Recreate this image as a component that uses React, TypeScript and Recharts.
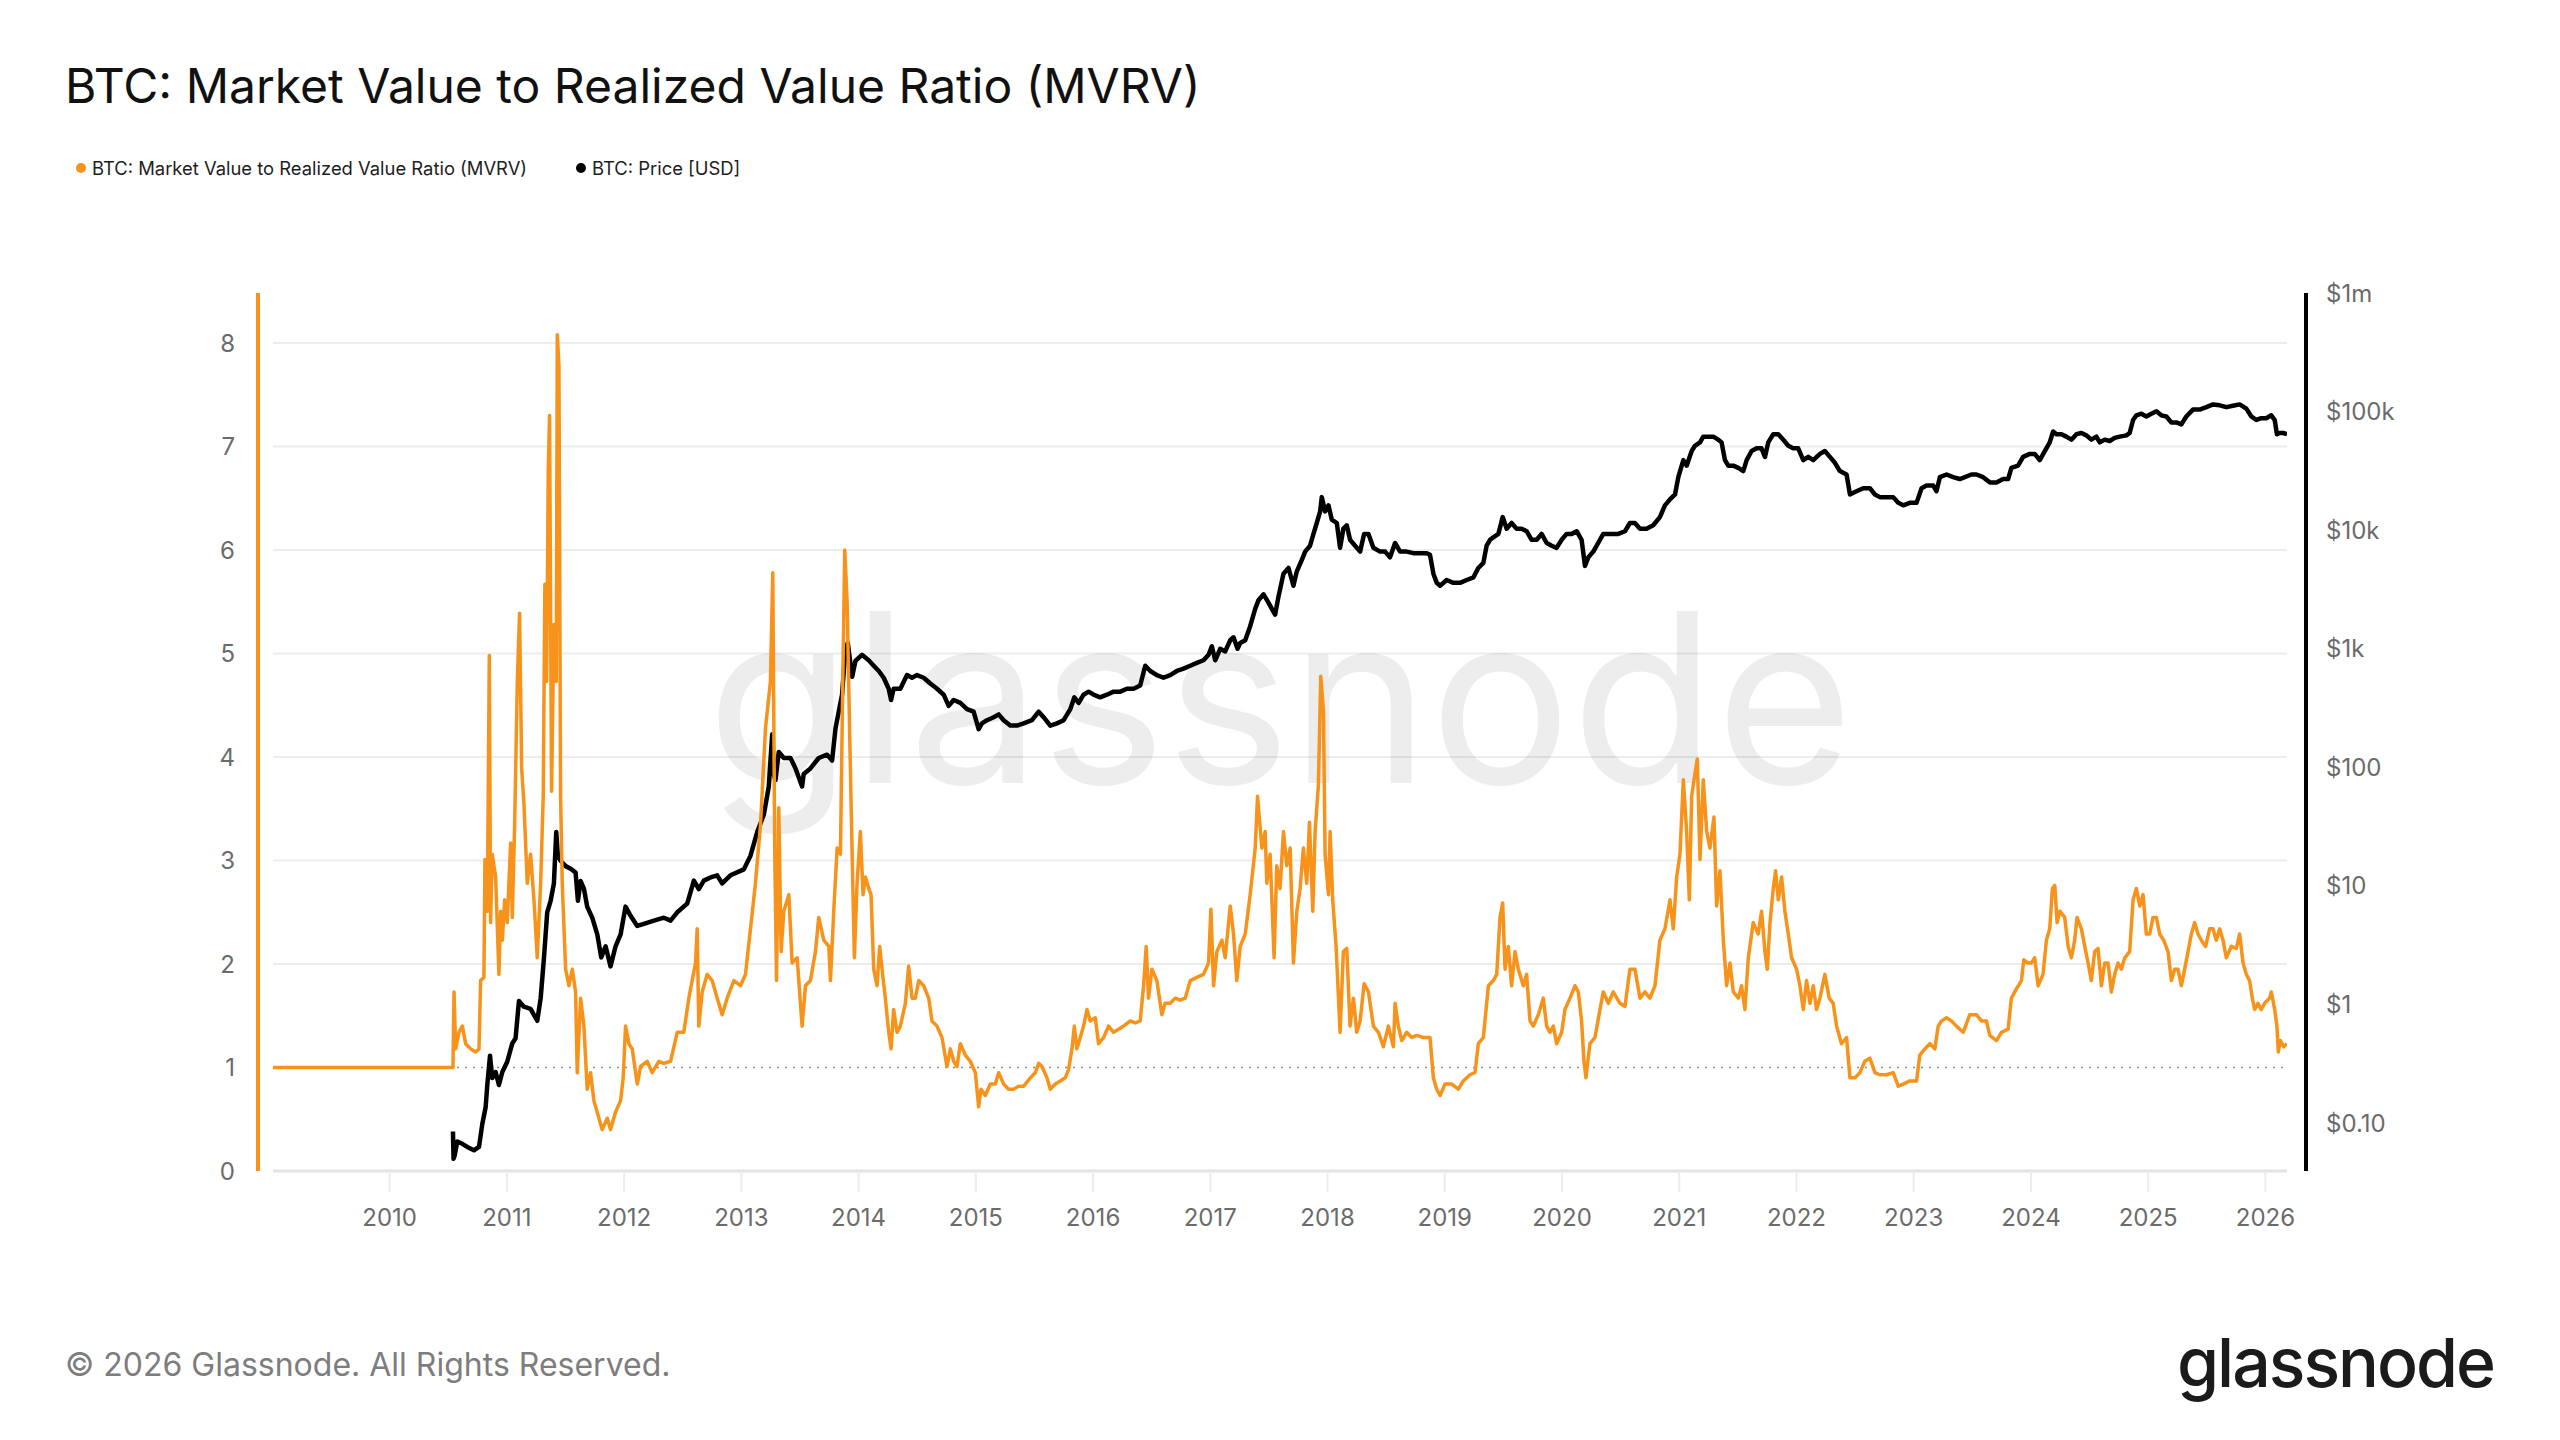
import React from 'react';
import { LineChart, Line, XAxis, YAxis, ReferenceLine, Customized } from 'recharts';

const ORANGE = '#f7931a';
const INK = '#000000';
const FONT = 'Inter, "Noto Sans", sans-serif';

const W = 2560;
const H = 1440;
// plot rectangle inside the svg
const PLOT = { left: 273, right: 2287, top: 293, bottom: 1171 };
const LEFT_AXIS_W = 80;
const RIGHT_AXIS_W = 200;
const X_AXIS_H = 80;

const yearTicks = [2010, 2011, 2012, 2013, 2014, 2015, 2016, 2017, 2018, 2019, 2020, 2021, 2022, 2023, 2024, 2025, 2026];
const ratioTicks = [0, 1, 2, 3, 4, 5, 6, 7, 8];
const priceTicks = [0.1, 1, 10, 100, 1000, 10000, 100000, 1000000];
const priceTickLabels = ['$0.10', '$1', '$10', '$100', '$1k', '$10k', '$100k', '$1m'];

// MVRV, sampled as decimal years
const mvrvYears = [
  2009.005, 2010.54, 2010.549, 2010.563, 2010.591, 2010.62, 2010.648, 2010.691, 2010.733, 2010.762, 2010.776, 2010.804, 2010.813, 2010.833, 2010.85, 2010.861, 2010.875, 2010.904, 2010.932, 2010.947, 2010.961, 2010.981,
  2011.003, 2011.032, 2011.046, 2011.066, 2011.089, 2011.108, 2011.126, 2011.145, 2011.174, 2011.202, 2011.231, 2011.259, 2011.288, 2011.31, 2011.324, 2011.339, 2011.353, 2011.364, 2011.381, 2011.401, 2011.421, 2011.43, 2011.444, 2011.458, 2011.472, 2011.501, 2011.529, 2011.558, 2011.586, 2011.6, 2011.629, 2011.657, 2011.685, 2011.714, 2011.742, 2011.785, 2011.813, 2011.856, 2011.884, 2011.927, 2011.97, 2011.992,
  2012.012, 2012.041, 2012.069, 2012.112, 2012.14, 2012.197, 2012.239, 2012.296, 2012.339, 2012.396, 2012.453, 2012.509, 2012.552, 2012.58, 2012.609, 2012.623, 2012.637, 2012.666, 2012.708, 2012.751, 2012.794, 2012.836, 2012.879, 2012.936, 2012.993,
  2013.035, 2013.078, 2013.12, 2013.163, 2013.206, 2013.248, 2013.268, 2013.285, 2013.3, 2013.319, 2013.339, 2013.362, 2013.405, 2013.433, 2013.476, 2013.518, 2013.547, 2013.589, 2013.632, 2013.66, 2013.703, 2013.746, 2013.76, 2013.788, 2013.817, 2013.845, 2013.865, 2013.882, 2013.902, 2013.925, 2013.945, 2013.964, 2013.987,
  2014.015, 2014.038, 2014.058, 2014.086, 2014.106, 2014.129, 2014.157, 2014.18, 2014.2, 2014.228, 2014.257, 2014.277, 2014.299, 2014.328, 2014.356, 2014.399, 2014.427, 2014.456, 2014.484, 2014.513, 2014.555, 2014.598, 2014.626, 2014.669, 2014.711, 2014.754, 2014.783, 2014.811, 2014.839, 2014.868, 2014.91, 2014.953, 2014.996,
  2015.024, 2015.044, 2015.081, 2015.124, 2015.166, 2015.195, 2015.237, 2015.28, 2015.322, 2015.365, 2015.408, 2015.465, 2015.507, 2015.536, 2015.564, 2015.607, 2015.635, 2015.678, 2015.72, 2015.763, 2015.791, 2015.82, 2015.84, 2015.862, 2015.891, 2015.919, 2015.948, 2015.976,
  2016.019, 2016.047, 2016.09, 2016.132, 2016.175, 2016.218, 2016.26, 2016.317, 2016.36, 2016.402, 2016.431, 2016.453, 2016.473, 2016.502, 2016.544, 2016.587, 2016.615, 2016.658, 2016.701, 2016.743, 2016.786, 2016.829, 2016.885, 2016.942, 2016.985,
  2017.005, 2017.028, 2017.056, 2017.099, 2017.127, 2017.17, 2017.198, 2017.226, 2017.255, 2017.298, 2017.34, 2017.383, 2017.403, 2017.44, 2017.468, 2017.482, 2017.51, 2017.544, 2017.567, 2017.595, 2017.624, 2017.652, 2017.681, 2017.709, 2017.738, 2017.766, 2017.794, 2017.823, 2017.846, 2017.874, 2017.894, 2017.922, 2017.942, 2017.965, 2017.979,
  2018.008, 2018.022, 2018.044, 2018.073, 2018.107, 2018.135, 2018.164, 2018.192, 2018.221, 2018.249, 2018.278, 2018.312, 2018.349, 2018.391, 2018.434, 2018.476, 2018.519, 2018.562, 2018.576, 2018.604, 2018.633, 2018.675, 2018.718, 2018.761, 2018.817, 2018.874, 2018.903, 2018.931, 2018.96,
  2019.002, 2019.059, 2019.116, 2019.158, 2019.215, 2019.258, 2019.286, 2019.329, 2019.372, 2019.414, 2019.443, 2019.471, 2019.494, 2019.514, 2019.542, 2019.57, 2019.599, 2019.627, 2019.67, 2019.698, 2019.727, 2019.755, 2019.798, 2019.84, 2019.869, 2019.897, 2019.926, 2019.954, 2019.997,
  2020.025, 2020.068, 2020.111, 2020.139, 2020.167, 2020.187, 2020.204, 2020.238, 2020.281, 2020.324, 2020.352, 2020.395, 2020.437, 2020.494, 2020.537, 2020.579, 2020.622, 2020.665, 2020.707, 2020.75, 2020.793, 2020.835, 2020.878, 2020.921, 2020.949, 2020.978,
  2021.006, 2021.035, 2021.063, 2021.086, 2021.106, 2021.126, 2021.154, 2021.177, 2021.205, 2021.234, 2021.262, 2021.296, 2021.319, 2021.347, 2021.376, 2021.404, 2021.433, 2021.461, 2021.504, 2021.532, 2021.56, 2021.589, 2021.631, 2021.674, 2021.702, 2021.731, 2021.751, 2021.774, 2021.802, 2021.822, 2021.845, 2021.873, 2021.901, 2021.93, 2021.958,
  2022.001, 2022.029, 2022.058, 2022.086, 2022.115, 2022.143, 2022.171, 2022.2, 2022.242, 2022.279, 2022.313, 2022.342, 2022.384, 2022.427, 2022.456, 2022.498, 2022.541, 2022.583, 2022.626, 2022.669, 2022.711, 2022.768, 2022.825, 2022.868, 2022.91, 2022.967,
  2023.024, 2023.052, 2023.095, 2023.138, 2023.18, 2023.209, 2023.237, 2023.28, 2023.322, 2023.365, 2023.422, 2023.478, 2023.535, 2023.578, 2023.62, 2023.649, 2023.706, 2023.748, 2023.805, 2023.833, 2023.876, 2023.919, 2023.939, 2023.976,
  2024.004, 2024.032, 2024.061, 2024.103, 2024.132, 2024.16, 2024.183, 2024.203, 2024.223, 2024.246, 2024.288, 2024.317, 2024.345, 2024.373, 2024.393, 2024.43, 2024.459, 2024.487, 2024.515, 2024.544, 2024.572, 2024.601, 2024.629, 2024.658, 2024.686, 2024.714, 2024.743, 2024.771, 2024.8, 2024.842, 2024.871, 2024.899, 2024.928, 2024.956, 2024.984,
  2025.013, 2025.041, 2025.07, 2025.098, 2025.132, 2025.169, 2025.198, 2025.226, 2025.254, 2025.283, 2025.311, 2025.34, 2025.368, 2025.396, 2025.425, 2025.453, 2025.49, 2025.524, 2025.553, 2025.581, 2025.61, 2025.638, 2025.666, 2025.709, 2025.752, 2025.78, 2025.809, 2025.837, 2025.865, 2025.888, 2025.908, 2025.936, 2025.965, 2025.993,
  2026.036, 2026.05, 2026.079, 2026.098, 2026.11, 2026.127, 2026.155, 2026.184,
];
const mvrvRatio = [
  1.0, 1.0, 1.73, 1.18, 1.34, 1.4, 1.23, 1.18, 1.15, 1.18, 1.84, 1.87, 3.01, 2.51, 4.98, 2.4, 3.06, 2.84, 1.9, 2.51, 2.23, 2.62,
  2.4, 3.17, 2.45, 3.34, 4.73, 5.39, 3.89, 3.56, 2.78, 3.06, 2.62, 2.06, 2.78, 3.62, 5.67, 4.73, 6.78, 7.3, 3.67, 5.28, 4.73, 8.08, 7.78, 3.62, 2.78, 1.95, 1.79, 1.95, 1.73, 0.95, 1.67, 1.4, 0.79, 0.95, 0.68, 0.51, 0.4, 0.51, 0.4, 0.57, 0.68, 0.9,
  1.4, 1.23, 1.18, 0.84, 1.01, 1.06, 0.95, 1.06, 1.04, 1.06, 1.34, 1.34, 1.67, 1.84, 2.01, 2.34, 1.4, 1.73, 1.9, 1.84, 1.67, 1.51, 1.67, 1.84, 1.79,
  1.9, 2.34, 2.78, 3.34, 4.28, 4.73, 5.78, 3.06, 1.84, 3.51, 2.12, 2.51, 2.67, 2.01, 2.06, 1.4, 1.79, 1.84, 2.12, 2.45, 2.23, 2.17, 1.84, 2.51, 3.12, 3.06, 4.73, 6.0, 5.5, 4.17, 3.06, 2.06, 2.78,
  3.28, 2.67, 2.84, 2.73, 2.67, 1.95, 1.79, 2.17, 1.95, 1.67, 1.34, 1.18, 1.56, 1.34, 1.4, 1.62, 1.98, 1.67, 1.67, 1.84, 1.79, 1.67, 1.45, 1.4, 1.29, 1.01, 1.18, 1.06, 1.01, 1.23, 1.12, 1.06, 0.95,
  0.62, 0.79, 0.73, 0.84, 0.84, 0.95, 0.84, 0.79, 0.79, 0.82, 0.82, 0.9, 0.95, 1.04, 1.01, 0.9, 0.79, 0.84, 0.87, 0.9, 0.98, 1.18, 1.4, 1.18, 1.29, 1.4, 1.56, 1.45,
  1.48, 1.23, 1.29, 1.4, 1.34, 1.37, 1.4, 1.45, 1.43, 1.45, 1.79, 2.17, 1.67, 1.95, 1.84, 1.51, 1.62, 1.62, 1.67, 1.65, 1.67, 1.84, 1.87, 1.9, 2.01,
  2.53, 1.79, 2.12, 2.23, 2.06, 2.56, 2.29, 1.84, 2.17, 2.29, 2.67, 3.12, 3.62, 3.12, 3.28, 2.78, 3.06, 2.06, 2.95, 2.73, 3.28, 2.95, 3.12, 2.01, 2.51, 2.73, 3.12, 2.78, 3.37, 2.51, 3.28, 3.73, 4.78, 4.45, 3.06,
  2.67, 3.28, 2.62, 2.17, 1.34, 2.12, 2.15, 1.4, 1.67, 1.34, 1.45, 1.81, 1.73, 1.4, 1.34, 1.2, 1.4, 1.2, 1.62, 1.4, 1.26, 1.34, 1.29, 1.31, 1.29, 1.29, 0.9, 0.79, 0.73,
  0.84, 0.84, 0.79, 0.87, 0.93, 0.95, 1.23, 1.29, 1.79, 1.84, 1.9, 2.45, 2.59, 1.95, 2.17, 1.79, 2.12, 1.95, 1.79, 1.9, 1.45, 1.4, 1.51, 1.67, 1.4, 1.34, 1.4, 1.23, 1.34,
  1.56, 1.67, 1.79, 1.73, 1.45, 1.06, 0.9, 1.23, 1.29, 1.56, 1.73, 1.62, 1.73, 1.62, 1.59, 1.95, 1.95, 1.67, 1.73, 1.67, 1.79, 2.23, 2.34, 2.62, 2.34, 2.84,
  3.06, 3.78, 3.28, 2.62, 3.62, 3.78, 3.98, 3.01, 3.78, 3.28, 3.12, 3.42, 2.56, 2.9, 2.23, 1.79, 2.01, 1.73, 1.67, 1.79, 1.56, 2.06, 2.4, 2.29, 2.51, 2.12, 1.95, 2.4, 2.73, 2.9, 2.62, 2.84, 2.51, 2.29, 2.06,
  1.95, 1.79, 1.56, 1.84, 1.62, 1.79, 1.56, 1.67, 1.9, 1.67, 1.62, 1.4, 1.23, 1.29, 0.9, 0.9, 0.95, 1.06, 1.09, 0.95, 0.93, 0.93, 0.95, 0.82, 0.84, 0.87,
  0.87, 1.12, 1.18, 1.23, 1.18, 1.4, 1.45, 1.48, 1.45, 1.4, 1.34, 1.51, 1.51, 1.45, 1.45, 1.31, 1.26, 1.34, 1.37, 1.67, 1.76, 1.84, 2.04, 2.01,
  2.01, 2.06, 1.79, 1.9, 2.23, 2.34, 2.73, 2.76, 2.4, 2.51, 2.45, 2.17, 2.06, 2.23, 2.45, 2.34, 2.17, 2.01, 1.84, 2.12, 2.15, 1.79, 2.01, 2.01, 1.73, 1.9, 2.01, 1.95, 2.06, 2.12, 2.62, 2.73, 2.56, 2.67, 2.29,
  2.29, 2.45, 2.45, 2.29, 2.23, 2.12, 1.84, 1.95, 1.95, 1.79, 1.95, 2.12, 2.29, 2.4, 2.29, 2.23, 2.17, 2.34, 2.34, 2.23, 2.34, 2.23, 2.06, 2.17, 2.15, 2.29, 2.01, 1.9, 1.84, 1.67, 1.56, 1.62, 1.56, 1.62,
  1.67, 1.73, 1.56, 1.4, 1.15, 1.26, 1.2, 1.23,
];

// BTC price in USD, sampled as decimal years
const priceYears = [
  2010.54, 2010.545, 2010.554, 2010.577, 2010.62, 2010.662, 2010.719, 2010.762, 2010.79, 2010.819, 2010.833, 2010.856, 2010.875, 2010.904, 2010.932, 2010.961,
  2011.003, 2011.046, 2011.074, 2011.103, 2011.145, 2011.202, 2011.259, 2011.288, 2011.316, 2011.344, 2011.373, 2011.401, 2011.421, 2011.435, 2011.458, 2011.501, 2011.543, 2011.586, 2011.606, 2011.629, 2011.657, 2011.685, 2011.728, 2011.771, 2011.805, 2011.842, 2011.884, 2011.927, 2011.97,
  2012.012, 2012.055, 2012.112, 2012.168, 2012.254, 2012.339, 2012.396, 2012.453, 2012.538, 2012.595, 2012.637, 2012.68, 2012.737, 2012.794, 2012.836, 2012.907, 2012.978,
  2013.021, 2013.078, 2013.135, 2013.192, 2013.234, 2013.263, 2013.277, 2013.291, 2013.319, 2013.362, 2013.419, 2013.462, 2013.518, 2013.532, 2013.589, 2013.66, 2013.731, 2013.774, 2013.803, 2013.831, 2013.859, 2013.888, 2013.908, 2013.945, 2013.973,
  2014.029, 2014.086, 2014.129, 2014.172, 2014.214, 2014.257, 2014.277, 2014.299, 2014.356, 2014.413, 2014.456, 2014.498, 2014.555, 2014.612, 2014.669, 2014.726, 2014.768, 2014.811, 2014.868, 2014.925, 2014.981,
  2015.024, 2015.052, 2015.095, 2015.152, 2015.195, 2015.237, 2015.294, 2015.351, 2015.408, 2015.479, 2015.536, 2015.578, 2015.635, 2015.692, 2015.749, 2015.806, 2015.84, 2015.877, 2015.919, 2015.962,
  2016.004, 2016.061, 2016.118, 2016.175, 2016.232, 2016.289, 2016.345, 2016.402, 2016.445, 2016.488, 2016.544, 2016.601, 2016.658, 2016.715, 2016.772, 2016.829, 2016.885, 2016.942, 2016.985,
  2017.013, 2017.042, 2017.084, 2017.127, 2017.17, 2017.198, 2017.232, 2017.255, 2017.298, 2017.34, 2017.383, 2017.411, 2017.454, 2017.496, 2017.539, 2017.553, 2017.581, 2017.624, 2017.667, 2017.709, 2017.738, 2017.78, 2017.809, 2017.851, 2017.88, 2017.908, 2017.937, 2017.951, 2017.979,
  2018.008, 2018.036, 2018.079, 2018.107, 2018.135, 2018.164, 2018.192, 2018.235, 2018.278, 2018.312, 2018.349, 2018.391, 2018.448, 2018.491, 2018.533, 2018.576, 2018.619, 2018.675, 2018.732, 2018.789, 2018.846, 2018.874, 2018.903, 2018.931, 2018.96,
  2019.016, 2019.073, 2019.13, 2019.187, 2019.244, 2019.286, 2019.329, 2019.357, 2019.386, 2019.414, 2019.457, 2019.494, 2019.528, 2019.57, 2019.613, 2019.656, 2019.698, 2019.741, 2019.784, 2019.826, 2019.869, 2019.912, 2019.954, 2019.997,
  2020.039, 2020.082, 2020.125, 2020.167, 2020.196, 2020.224, 2020.267, 2020.309, 2020.352, 2020.395, 2020.437, 2020.48, 2020.537, 2020.579, 2020.622, 2020.665, 2020.721, 2020.778, 2020.835, 2020.878, 2020.921, 2020.964, 2020.992,
  2021.035, 2021.063, 2021.106, 2021.134, 2021.177, 2021.205, 2021.248, 2021.29, 2021.333, 2021.361, 2021.39, 2021.418, 2021.461, 2021.504, 2021.546, 2021.575, 2021.617, 2021.66, 2021.702, 2021.731, 2021.759, 2021.802, 2021.845, 2021.887, 2021.93, 2021.972,
  2022.015, 2022.058, 2022.1, 2022.143, 2022.2, 2022.242, 2022.285, 2022.328, 2022.37, 2022.427, 2022.456, 2022.512, 2022.569, 2022.626, 2022.669, 2022.711, 2022.768, 2022.825, 2022.868, 2022.91, 2022.967,
  2023.024, 2023.067, 2023.109, 2023.166, 2023.194, 2023.223, 2023.28, 2023.336, 2023.393, 2023.492, 2023.535, 2023.592, 2023.649, 2023.706, 2023.762, 2023.805, 2023.833, 2023.89, 2023.933, 2023.99,
  2024.032, 2024.075, 2024.118, 2024.16, 2024.189, 2024.217, 2024.26, 2024.302, 2024.345, 2024.388, 2024.43, 2024.473, 2024.515, 2024.558, 2024.587, 2024.629, 2024.672, 2024.714, 2024.757, 2024.814, 2024.842, 2024.871, 2024.899, 2024.942, 2024.984,
  2025.027, 2025.07, 2025.112, 2025.155, 2025.198, 2025.24, 2025.283, 2025.325, 2025.382, 2025.439, 2025.496, 2025.553, 2025.61, 2025.666, 2025.723, 2025.78, 2025.837, 2025.88, 2025.922, 2025.965,
  2026.007, 2026.05, 2026.079, 2026.098, 2026.121, 2026.15, 2026.184,
];
const priceUsd = [
  0.085, 0.05, 0.053, 0.07, 0.067, 0.063, 0.059, 0.063, 0.098, 0.137, 0.21, 0.37, 0.24, 0.27, 0.21, 0.27,
  0.33, 0.47, 0.52, 1.07, 0.96, 0.92, 0.73, 1.13, 2.46, 6.0, 7.5, 10.5, 28.5, 18, 16.3, 14.7, 14, 13, 7.5, 11, 9.5, 6.7, 5.4, 3.9, 2.5, 3.1, 2.1, 3.1, 3.9,
  6.7, 5.6, 4.6, 4.8, 5.1, 5.4, 5.1, 6.0, 7.1, 11.1, 9.4, 11.1, 11.8, 12.3, 10.5, 12.3, 13.2,
  13.8, 18, 28.5, 40, 69, 190, 87, 78, 135, 120, 120, 98, 69, 88, 98, 120, 128, 114, 213, 297, 410, 1000, 1120, 580, 790,
  890, 800, 720, 650, 570, 460, 370, 460, 460, 600, 570, 600, 570, 510, 460, 410, 330, 370, 350, 310, 295,
  210, 235, 250, 265, 280, 250, 225, 225, 235, 250, 295, 265, 225, 235, 250, 310, 390, 350, 410, 435,
  410, 390, 410, 435, 435, 460, 460, 490, 720, 650, 600, 570, 600, 650, 680, 720, 760, 800, 890,
  1050, 800, 1000, 950, 1180, 1250, 1000, 1120, 1180, 1550, 2170, 2570, 2880, 2450, 2050, 1940, 2740, 4300, 4800, 3400, 4500, 5600, 6600, 7400, 9300, 11500, 14400, 19000, 14400,
  16200, 12300, 11500, 7100, 10300, 11000, 8300, 7400, 6600, 9300, 9300, 7100, 6600, 6600, 5900, 7800, 6600, 6600, 6400, 6400, 6400, 6200, 4300, 3600, 3400,
  3800, 3600, 3600, 3800, 4000, 4800, 5300, 7400, 8300, 8700, 9300, 12900, 10300, 11500, 10300, 10300, 9800, 8300, 8300, 9300, 7800, 7400, 7100, 8300,
  9300, 9300, 9800, 8300, 5000, 5900, 6600, 7800, 9300, 9300, 9300, 9300, 9800, 11500, 11500, 10300, 10300, 11000, 12900, 16200, 18200, 20000, 28000,
  39000, 35000, 46500, 51500, 55000, 61500, 61500, 61500, 58000, 55000, 39000, 35000, 35000, 33500, 31500, 39000, 46500, 49000, 49000, 41500, 55000, 64500, 64500, 58000, 51500, 49000,
  49000, 39000, 41500, 39000, 44000, 46500, 41500, 37000, 31500, 29500, 20000, 21300, 22600, 22600, 20000, 19000, 19000, 19000, 17000, 16200, 17000,
  17000, 22600, 23800, 23800, 21300, 28000, 29500, 28000, 27000, 29500, 29500, 28000, 25300, 25300, 27000, 27000, 33500, 35000, 41500, 44000,
  44000, 39000, 46500, 55000, 68000, 64500, 64500, 61500, 58000, 64500, 66000, 63000, 58000, 61500, 55000, 58000, 56500, 60000, 61500, 63000, 66000, 85000, 93000, 96000, 91000,
  96000, 100500, 93000, 91000, 81000, 81000, 78000, 91000, 104000, 104000, 109000, 115000, 113000, 109000, 112000, 115000, 106000, 91000, 85000, 88000,
  88000, 93000, 85000, 64500, 66000, 66000, 64500,
];

const mvrvData = mvrvYears.map((t, i) => ({ t, mvrv: mvrvRatio[i] }));
const priceData = priceYears.map((t, i) => ({ t, price: priceUsd[i] }));

const formatPrice = (v: number) => priceTickLabels[priceTicks.indexOf(v)] ?? String(v);

const tickStyle = { fontSize: 24, fill: '#6b6b6b', fontFamily: FONT };

// the two coloured axis rails sit a little outside the plot rectangle
function AxisRails() {
  return (
    <g>
      <line x1={PLOT.left - 15} x2={PLOT.left - 15} y1={PLOT.top} y2={PLOT.bottom} stroke={ORANGE} strokeWidth={4} />
      <line x1={PLOT.right + 19} x2={PLOT.right + 19} y1={PLOT.top} y2={PLOT.bottom} stroke={INK} strokeWidth={4} />
    </g>
  );
}

function LegendItem({ color, label }: { color: string; label: string }) {
  return (
    <div style={{ display: 'flex', alignItems: 'center', height: 20, lineHeight: '20px' }}>
      <span style={{ width: 10, height: 10, borderRadius: 5, background: color, marginRight: 6 }} />
      <span>{label}</span>
    </div>
  );
}

export default function App() {
  return (
    <div style={{ position: 'absolute', left: 0, top: 0, width: W, height: H, background: '#fff', fontFamily: FONT, overflow: 'hidden' }}>
      {/* Title */}
      <div style={{ position: 'absolute', left: 65, top: 62, fontSize: 48, lineHeight: 1, color: '#111', fontWeight: 400 }}>
        BTC: Market Value to Realized Value Ratio (MVRV)
      </div>

      {/* Legend */}
      <div style={{ position: 'absolute', left: 76, top: 158, fontSize: 18.4, color: '#1e1e1e' }}>
        <LegendItem color={ORANGE} label="BTC: Market Value to Realized Value Ratio (MVRV)" />
      </div>
      <div style={{ position: 'absolute', left: 576, top: 158, fontSize: 18.4, color: '#1e1e1e' }}>
        <LegendItem color={INK} label="BTC: Price [USD]" />
      </div>

      {/* Watermark */}
      <div style={{ position: 'absolute', left: 0, top: 579, width: W, textAlign: 'center', fontSize: 236, lineHeight: 1, color: '#ededed' }}>
        glassnode
      </div>

      <div style={{ position: 'absolute', left: 0, top: 0 }}>
        <LineChart
          width={W}
          height={H}
          margin={{
            top: PLOT.top,
            left: PLOT.left - LEFT_AXIS_W,
            right: W - PLOT.right - RIGHT_AXIS_W,
            bottom: H - PLOT.bottom - X_AXIS_H,
          }}
        >
          {/* horizontal grid on the ratio axis; the 1.0 level gets a dotted line instead */}
          {ratioTicks.filter((v) => v !== 1).map((v) => (
            <ReferenceLine key={v} yAxisId="ratio" y={v} stroke="rgba(0,0,0,0.07)" strokeWidth={2} />
          ))}
          <ReferenceLine yAxisId="ratio" y={1} stroke="#8c8c8c" strokeWidth={1.5} strokeDasharray="2 6" />
          <XAxis
            dataKey="t"
            type="number"
            domain={[2009.005, 2026.184]}
            allowDataOverflow
            ticks={yearTicks}
            height={X_AXIS_H}
            axisLine={{ stroke: '#e4e4e8', strokeWidth: 3 }}
            tickLine={{ stroke: '#ececec', strokeWidth: 2 }}
            tickSize={21}
            tickMargin={17}
            tick={tickStyle}
          />
          <YAxis
            yAxisId="ratio"
            orientation="left"
            type="number"
            domain={[0, 8.483]}
            allowDataOverflow
            ticks={ratioTicks}
            width={LEFT_AXIS_W}
            axisLine={false}
            tickLine={false}
            tickSize={0}
            tickMargin={38}
            tick={tickStyle}
          />
          <YAxis
            yAxisId="price"
            orientation="right"
            type="number"
            scale="log"
            domain={[0.0395, 1000000]}
            allowDataOverflow
            ticks={priceTicks}
            tickFormatter={formatPrice}
            width={RIGHT_AXIS_W}
            axisLine={false}
            tickLine={false}
            tickSize={0}
            tickMargin={39}
            tick={{ ...tickStyle, textAnchor: 'start' }}
          />
          <Line
            yAxisId="price"
            data={priceData}
            dataKey="price"
            type="linear"
            stroke={INK}
            strokeWidth={4.5}
            strokeLinejoin="round"
            dot={false}
            activeDot={false}
            isAnimationActive={false}
          />
          <Line
            yAxisId="ratio"
            data={mvrvData}
            dataKey="mvrv"
            type="linear"
            stroke={ORANGE}
            strokeWidth={3.5}
            strokeLinejoin="round"
            dot={false}
            activeDot={false}
            isAnimationActive={false}
          />
          <Customized component={AxisRails} />
        </LineChart>
      </div>

      {/* Footer */}
      <div style={{ position: 'absolute', left: 65, top: 1345, fontSize: 32, lineHeight: '40px', color: '#7d7d7d' }}>
        © 2026 Glassnode. All Rights Reserved.
      </div>
      <div style={{ position: 'absolute', right: 66, top: 1328, fontSize: 68, lineHeight: 1, color: '#1b1b1b', fontWeight: 500, letterSpacing: -2 }}>
        glassnode
      </div>
    </div>
  );
}
